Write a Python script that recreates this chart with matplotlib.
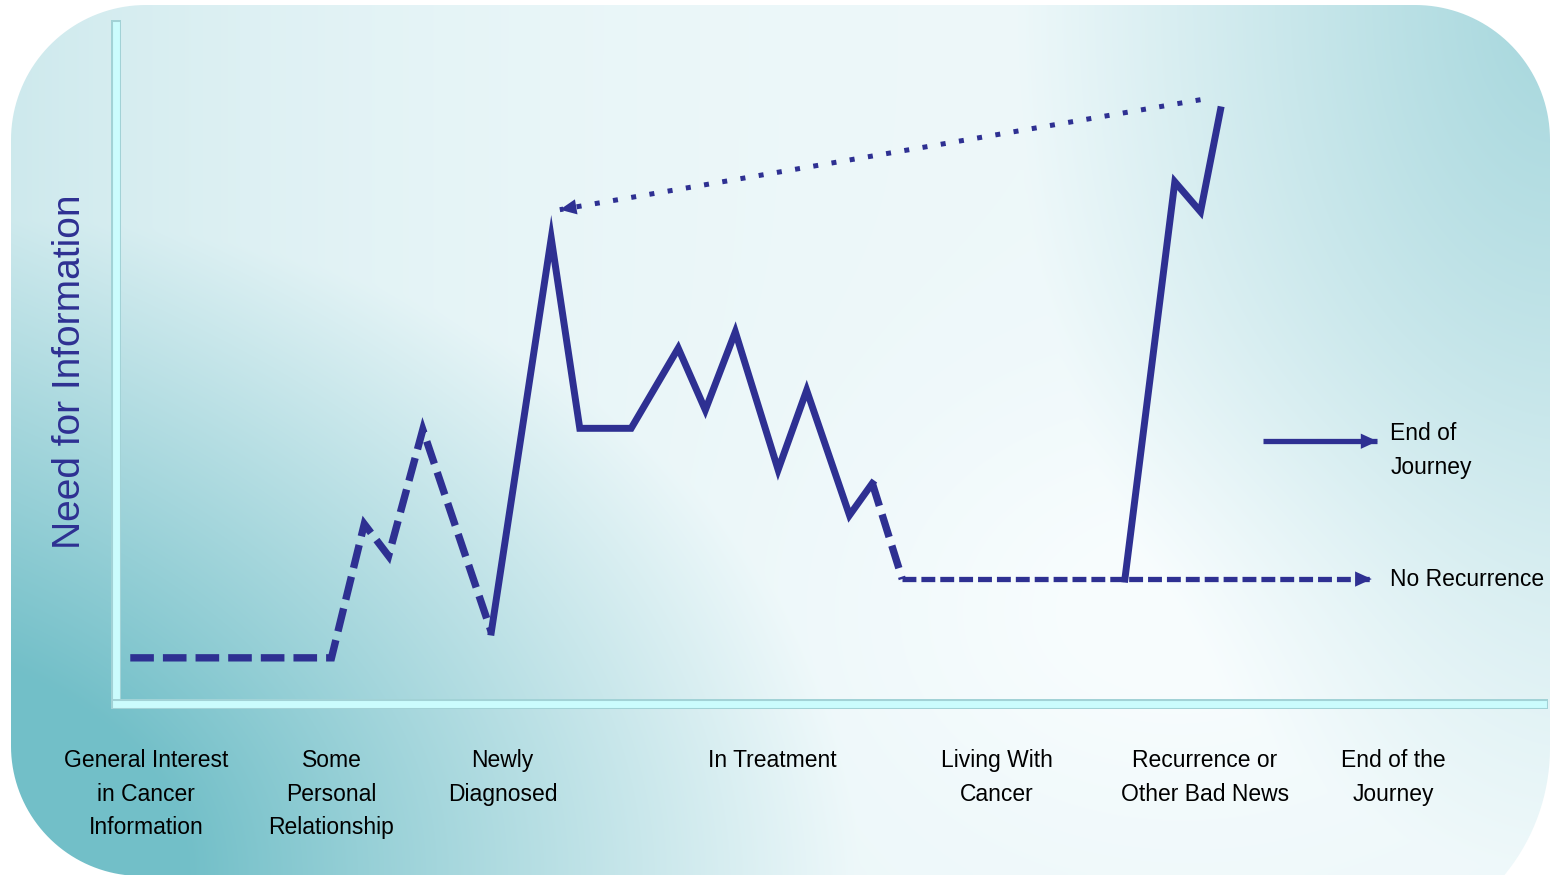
import numpy as np
import matplotlib
matplotlib.use("Agg")
import matplotlib.pyplot as plt
import matplotlib.patheffects as pe
from matplotlib.patches import PathPatch
from matplotlib.path import Path

plt.rcParams['lines.scale_dashes'] = False
LABEL_FONT = ['Liberation Sans Narrow', 'Liberation Sans', 'DejaVu Sans']
NAVY = '#2e3092'

# stages along the journey and where their labels sit
stages = ['General Interest\nin Cancer\nInformation', 'Some\nPersonal\nRelationship',
          'Newly\nDiagnosed', 'In Treatment', 'Living With\nCancer',
          'Recurrence or\nOther Bad News', 'End of the\nJourney']
stage_x = [2.1, 15.1, 27.1, 46.0, 61.7, 76.3, 89.5]

# need-for-information curve, split by line style
pre_x = [1.0, 15.1, 17.4, 19.1, 21.5, 26.3]
pre_y = [6.8, 6.8, 26.5, 21.8, 40.4, 10.6]
treat_x = [26.3, 30.5, 32.5, 36.1, 39.4, 41.3, 43.4, 46.4, 48.4, 51.4, 53.0]
treat_y = [10.6, 68.6, 40.6, 40.6, 52.4, 43.3, 54.8, 34.5, 46.2, 27.8, 32.5]
settle_x = [53.0, 55.1]
settle_y = [32.5, 18.4]
no_rec_x = [55.1, 88.0]
no_rec_y = [18.4, 18.4]
recur_x = [70.7, 74.2, 76.0, 77.4]
recur_y = [18.4, 76.9, 72.5, 87.5]
back_x = [76.0, 31.1]
back_y = [89.0, 72.8]
end_x = [80.4, 88.4]
end_y = [38.7, 38.7]

W, H = 1560, 875
fig = plt.figure(figsize=(W / 100, H / 100), dpi=100)
fig.patch.set_facecolor('white')

# ---- rounded teal backdrop ----
bg = fig.add_axes([0, 0, 1, 1])
bg.set_xlim(0, W)
bg.set_ylim(H, 0)
bg.axis('off')


def arc(cx, cy, r, a0, a1, n=40):
    t = np.radians(np.linspace(a0, a1, n))
    return np.column_stack([cx + r * np.cos(t), cy + r * np.sin(t)])


left, right, top = 11, 1550, 5
pts = np.vstack([
    arc(left + 135, top + 135, 135, 180, 270),
    arc(right - 135, top + 135, 135, 270, 360),
    arc(right - 200, 948 - 200, 200, 0, 90),
    arc(left + 130, 876 - 130, 130, 90, 180),
])
shape = PathPatch(Path(np.vstack([pts, pts[:1]]), closed=True),
                  facecolor='none', edgecolor='none')
bg.add_patch(shape)

u, v = np.meshgrid(np.linspace(0, 1, 400), np.linspace(0, 1, 240))
lobe_bl = np.clip(1 - np.sqrt((u / 0.55) ** 2 + ((1 - v) / 0.75) ** 2), 0, 1)
lobe_tr = 0.55 * np.clip(1 - np.sqrt(((1 - u) / 0.35) ** 2 + (v / 1.0) ** 2), 0, 1)
side = 0.25 * (1 - u) ** 4
glow = 0.08 * np.exp(-((u - 0.75) ** 2 / 0.04 + (v - 0.7) ** 2 / 0.06))
w = np.clip(0.07 + lobe_bl + lobe_tr + side - glow, 0, 1)[..., None]
light = np.array([0.97, 0.99, 0.995])
teal = np.array([0.45, 0.75, 0.785])
img = light * (1 - w) + teal * w
im = bg.imshow(img, extent=(0, W, H, 0), aspect='auto', interpolation='bilinear')
im.set_clip_path(shape)

# ---- chart ----
ax = fig.add_axes([116 / W, 171 / H, 1427 / W, 679 / H])
ax.set_facecolor('none')
ax.set_xlim(0, 100)
ax.set_ylim(0, 100)
ax.set_xticks([])
ax.set_yticks([])
for side_name in ['top', 'right']:
    ax.spines[side_name].set_visible(False)
for side_name in ['left', 'bottom']:
    sp = ax.spines[side_name]
    sp.set_color('#cbfcfd')
    sp.set_linewidth(5)
    sp.set_path_effects([pe.Stroke(linewidth=7.2, foreground='#a2d2d6'), pe.Normal()])

big_dash = (0, (17, 6.5))
small_dash = (0, (10, 3.6))
ax.plot(pre_x, pre_y, color=NAVY, lw=5.3, ls=big_dash, dash_capstyle='butt',
        dash_joinstyle='miter')
ax.plot(treat_x, treat_y, color=NAVY, lw=5.0, solid_joinstyle='miter')
ax.plot(settle_x, settle_y, color=NAVY, lw=5.3, ls=big_dash, dash_capstyle='butt')
ax.plot(no_rec_x, no_rec_y, color=NAVY, lw=3.8, ls=small_dash, dash_capstyle='butt')
ax.plot(recur_x, recur_y, color=NAVY, lw=5.0, solid_joinstyle='miter')
ax.plot(back_x, back_y, color=NAVY, lw=3.6, ls=(0, (3.6, 9.7)), dash_capstyle='butt')
ax.plot(end_x, end_y, color=NAVY, lw=3.8, solid_capstyle='butt')


def head(xs, ys):
    # filled arrowhead at the last point, aligned with the final segment
    x0, y0 = xs[-2], ys[-2]
    x1, y1 = xs[-1], ys[-1]
    f = 0.02
    ax.annotate('', xy=(x1, y1), xytext=(x1 - (x1 - x0) * f, y1 - (y1 - y0) * f),
                arrowprops=dict(arrowstyle='-|>,head_length=1.2,head_width=0.55',
                                mutation_scale=10, color=NAVY, lw=0,
                                shrinkA=0, shrinkB=0))


head(no_rec_x, no_rec_y)
head(end_x, end_y)
head(back_x, back_y)

ax.text(89.3, 37.3, 'End of\nJourney', fontsize=16.5, family=LABEL_FONT,
        ha='left', va='center', linespacing=1.6)
ax.text(89.3, no_rec_y[0], 'No Recurrence', fontsize=16.5, family=LABEL_FONT,
        ha='left', va='center')

for label, x in zip(stages, stage_x):
    ax.text(x, -0.066, label, transform=ax.get_xaxis_transform(), fontsize=16.5,
            family=LABEL_FONT, ha='center', va='top', linespacing=1.6,
            multialignment='center')

fig.text(70 / W, 1 - 372 / H, 'Need for Information', rotation=90, fontsize=28,
         color=NAVY, family=['Liberation Sans', 'DejaVu Sans'], ha='center', va='center')

fig.savefig('out.png', dpi=100)
